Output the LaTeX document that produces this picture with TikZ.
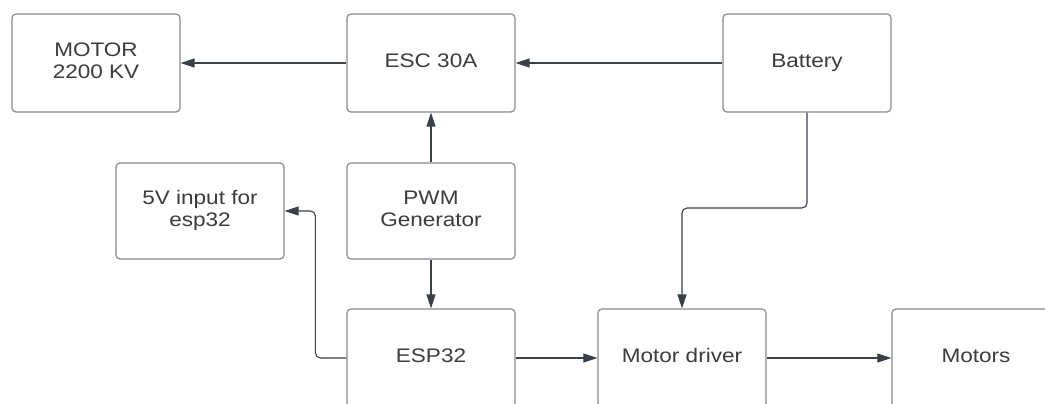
\documentclass[tikz,border=0pt]{standalone}
\usepackage{fontspec}
\setmainfont{Liberation Sans}
\usetikzlibrary{arrows.meta}
\definecolor{boxline}{HTML}{8A8A8A}
\definecolor{txt}{HTML}{3C3C3C}
\definecolor{arr}{HTML}{3A404A}
\newcommand{\wtext}[1]{\scalebox{1.15}[1]{\begin{tabular}{@{}c@{}}#1\end{tabular}}}
\tikzset{
  blk/.style={draw=boxline, line width=1.2pt, rounded corners=4pt, minimum width=168pt, minimum height=98pt, inner sep=0pt, text=txt, font=\fontsize{19.6}{21.5}\selectfont, fill=white},
  conn/.style={draw=arr!85, line width=1.1pt, rounded corners=5pt, -{Triangle[length=14pt,width=9pt]}, arr}
}
\begin{document}
\begin{tikzpicture}[x=1pt,y=-1pt]
\useasboundingbox (0,0) rectangle (1045,404);
\fill[white] (0,0) rectangle (1045,404);
\clip (0,0) rectangle (1045,404);
\node[blk] (motor) at (96,63) {\wtext{MOTOR\\2200 KV}};
\node[blk] (esc) at (431,63) {\wtext{ESC 30A}};
\node[blk] (bat) at (807,63) {\wtext{Battery}};
\node[blk, minimum height=96pt] (fivev) at (200,211) {\wtext{5V input for\\esp32}};
\node[blk, minimum height=96pt] (pwm) at (431,211) {\wtext{PWM\\Generator}};
\node[blk] (esp) at (431,358) {\wtext{ESP32}};
\node[blk] (drv) at (682,358) {\wtext{Motor driver}};
\node[blk] (mots) at (976,358) {\wtext{Motors}};
\coordinate (bend) at (807,208);
\draw[conn] (esc.west) -- (motor.east);
\draw[conn] (bat.west) -- (esc.east);
\draw[conn] (pwm.north) -- (esc.south);
\draw[conn] (pwm.south) -- (esp.north);
\draw[conn] (esp.west) -- ++(-31,0) |- (fivev.east);
\draw[conn] (esp.east) -- (drv.west);
\draw[conn] (drv.east) -- (mots.west);
\draw[conn] (bat.south) -- (bend) -| (drv.north);
\end{tikzpicture}
\end{document}
